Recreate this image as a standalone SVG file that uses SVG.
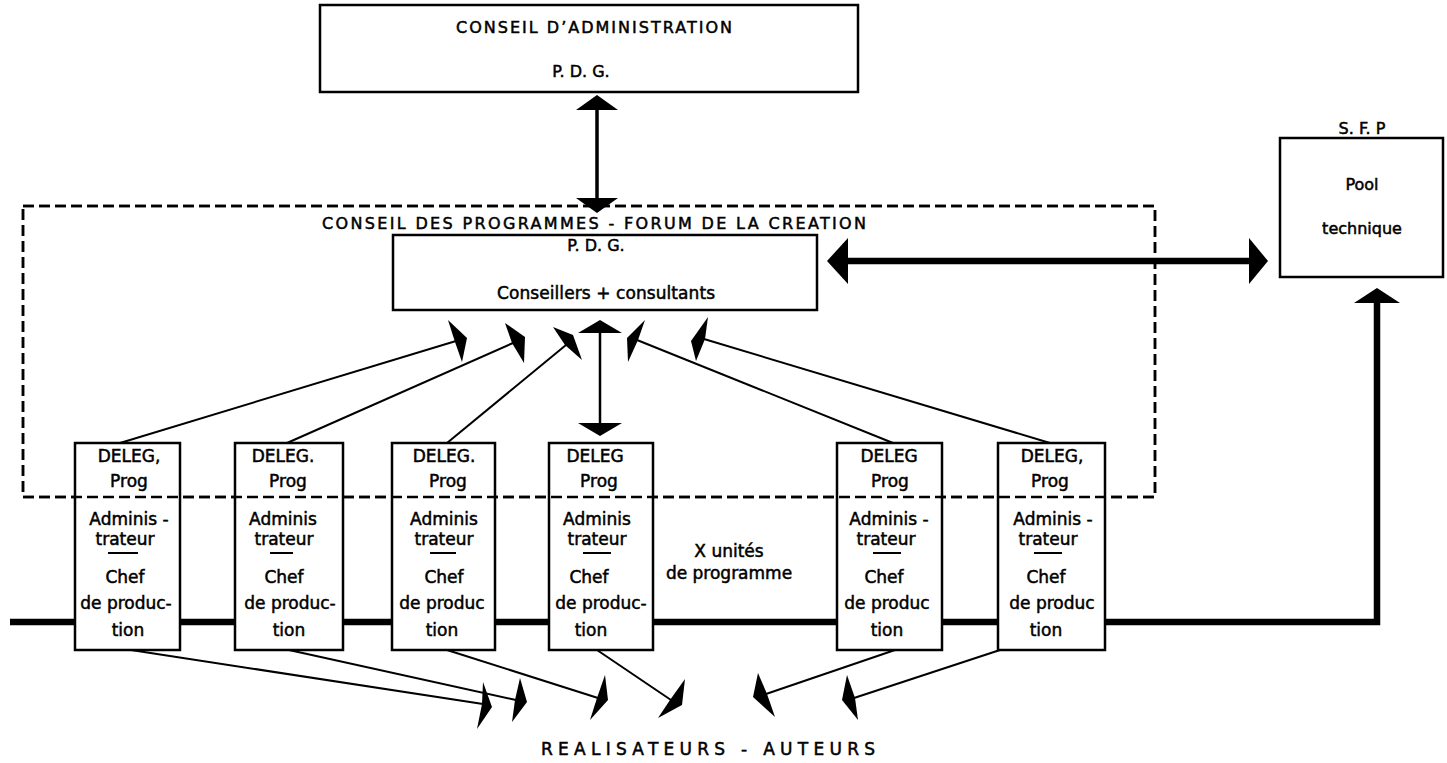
<svg xmlns="http://www.w3.org/2000/svg" width="1447" height="763" viewBox="0 0 1447 763">
<style>
.box{fill:#fff;stroke:#000;stroke-width:2.5}
.t{font-family:"DejaVu Sans","Liberation Sans",sans-serif;fill:#000;stroke:#000;stroke-width:0.5;text-anchor:middle}
.u{font-size:17px}
.h{font-size:16px}
.thin{stroke:#000;stroke-width:2;fill:none}
.thick{stroke:#000;stroke-width:6.5;fill:none}
.ah{fill:#000}
.dash{fill:none;stroke:#000;stroke-width:2.5;stroke-dasharray:11 5}
</style>
<rect width="1447" height="763" fill="#fff"/>

<g id="connectors">
  <path class="thick" d="M10,622 H1377 V300"/>
  <polygon class="ah" points="1377,288 1400,303 1354,303"/>
  <line class="thick" x1="845" y1="261" x2="1252" y2="261"/>
  <polygon class="ah" points="827,261 848,238 848,284"/>
  <polygon class="ah" points="1268,261 1249,238 1249,284"/>
  <line x1="597" y1="108" x2="597" y2="200" stroke="#000" stroke-width="3.5"/>
  <polygon class="ah" points="597,95 618,110 576,110"/>
  <polygon class="ah" points="597,213 576,198 618,198"/>
  <line x1="600" y1="330" x2="600" y2="426" stroke="#000" stroke-width="2.5"/>
  <polygon class="ah" points="600,320 622,333 578,333"/>
  <polygon class="ah" points="600,436 578,423 622,423"/>
  <line class="thin" x1="120" y1="443" x2="456" y2="341"/>
  <polygon class="ah" points="448,320 467,338 462,362 455,342"/>
  <line class="thin" x1="287" y1="443" x2="513" y2="343"/>
  <polygon class="ah" points="505,323 525,337 524,363 512,343"/>
  <line class="thin" x1="447" y1="443" x2="566" y2="345"/>
  <polygon class="ah" points="553,327 573,335 582,360 565,345"/>
  <line class="thin" x1="893" y1="443" x2="637" y2="340"/>
  <polygon class="ah" points="645,320 627,338 628,362 638,340"/>
  <line class="thin" x1="1050" y1="443" x2="704" y2="339"/>
  <polygon class="ah" points="708,317 691,341 696,361 705,339"/>
  <line class="thin" x1="131" y1="650" x2="483" y2="704"/>
  <polygon class="ah" points="483,682 492,707 477,729 482,704"/>
  <line class="thin" x1="289" y1="650" x2="516" y2="700"/>
  <polygon class="ah" points="520,678 527,702 512,722 515,700"/>
  <line class="thin" x1="447" y1="650" x2="598" y2="698"/>
  <polygon class="ah" points="605,675 608,700 590,720 597,698"/>
  <line class="thin" x1="597" y1="650" x2="671" y2="700"/>
  <polygon class="ah" points="685,679 682,705 658,718 670,700"/>
  <line class="thin" x1="895" y1="650" x2="766" y2="694"/>
  <polygon class="ah" points="758,673 753,697 775,717 767,694"/>
  <line class="thin" x1="1000" y1="650" x2="854" y2="698"/>
  <polygon class="ah" points="847,675 842,700 858,720 855,698"/>
</g>

<g id="conseil-admin">
  <rect class="box" x="320" y="5" width="538" height="87"/>
  <text class="t h" x="594" y="33" textLength="276" lengthAdjust="spacing">CONSEIL D’ADMINISTRATION</text>
  <text class="t h" x="581" y="77">P. D. G.</text>
</g>

<g id="conseil-programmes">
  <rect class="dash" x="23" y="206" width="1132" height="291"/>
  <text class="t h" x="594" y="229" textLength="544" lengthAdjust="spacing">CONSEIL DES PROGRAMMES - FORUM DE LA CREATION</text>
</g>

<g id="pdg-conseillers">
  <rect class="box" x="393" y="235" width="424" height="75"/>
  <text class="t h" x="596" y="251">P. D. G.</text>
  <text class="t u" x="606" y="299" textLength="218" lengthAdjust="spacing">Conseillers + consultants</text>
</g>

<g id="sfp">
  <text class="t h" x="1362" y="134">S. F. P</text>
  <rect class="box" x="1280" y="138" width="163" height="139"/>
  <text class="t h" x="1362" y="190">Pool</text>
  <text class="t h" x="1362" y="234">technique</text>
</g>

<g id="unit1" transform="translate(75,443)">
  <rect class="box" x="0" y="0" width="105" height="207"/>
  <text class="t u" x="54" y="19">DELEG,</text>
  <text class="t u" x="54" y="44">Prog</text>
  <text class="t u" x="54" y="82">Adminis -</text>
  <text class="t u" x="50" y="102">trateur</text>
  <line x1="33" y1="110" x2="63" y2="110" stroke="#000" stroke-width="2"/>
  <text class="t u" x="50" y="140">Chef</text>
  <text class="t u" x="51" y="166">de produc-</text>
  <text class="t u" x="53" y="193">tion</text>
</g>

<g id="unit2" transform="translate(235,443)">
  <rect class="box" x="0" y="0" width="108" height="207"/>
  <text class="t u" x="48" y="19">DELEG.</text>
  <text class="t u" x="53" y="44">Prog</text>
  <text class="t u" x="48" y="82">Adminis</text>
  <text class="t u" x="49" y="102">trateur</text>
  <line x1="35" y1="110" x2="58" y2="110" stroke="#000" stroke-width="2"/>
  <text class="t u" x="49" y="140">Chef</text>
  <text class="t u" x="55" y="166">de produc-</text>
  <text class="t u" x="54" y="193">tion</text>
</g>

<g id="unit3" transform="translate(392,443)">
  <rect class="box" x="0" y="0" width="103" height="207"/>
  <text class="t u" x="52" y="19">DELEG.</text>
  <text class="t u" x="56" y="44">Prog</text>
  <text class="t u" x="52" y="82">Adminis</text>
  <text class="t u" x="52" y="102">trateur</text>
  <line x1="38" y1="110" x2="64" y2="110" stroke="#000" stroke-width="2"/>
  <text class="t u" x="52" y="140">Chef</text>
  <text class="t u" x="50" y="166">de produc</text>
  <text class="t u" x="50" y="193">tion</text>
</g>

<g id="unit4" transform="translate(549,443)">
  <rect class="box" x="0" y="0" width="104" height="207"/>
  <text class="t u" x="46" y="19">DELEG</text>
  <text class="t u" x="50" y="44">Prog</text>
  <text class="t u" x="48" y="82">Adminis</text>
  <text class="t u" x="48" y="102">trateur</text>
  <line x1="34" y1="110" x2="62" y2="110" stroke="#000" stroke-width="2"/>
  <text class="t u" x="40" y="140">Chef</text>
  <text class="t u" x="52" y="166">de produc-</text>
  <text class="t u" x="42" y="193">tion</text>
</g>

<g id="unit5" transform="translate(837,443)">
  <rect class="box" x="0" y="0" width="105" height="207"/>
  <text class="t u" x="52" y="19">DELEG</text>
  <text class="t u" x="53" y="44">Prog</text>
  <text class="t u" x="52" y="82">Adminis -</text>
  <text class="t u" x="49" y="102">trateur</text>
  <line x1="36" y1="110" x2="64" y2="110" stroke="#000" stroke-width="2"/>
  <text class="t u" x="47" y="140">Chef</text>
  <text class="t u" x="50" y="166">de produc</text>
  <text class="t u" x="50" y="193">tion</text>
</g>

<g id="unit6" transform="translate(998,443)">
  <rect class="box" x="0" y="0" width="107" height="207"/>
  <text class="t u" x="54" y="19">DELEG,</text>
  <text class="t u" x="52" y="44">Prog</text>
  <text class="t u" x="55" y="82">Adminis -</text>
  <text class="t u" x="50" y="102">trateur</text>
  <line x1="36" y1="110" x2="64" y2="110" stroke="#000" stroke-width="2"/>
  <text class="t u" x="48" y="140">Chef</text>
  <text class="t u" x="54" y="166">de produc</text>
  <text class="t u" x="48" y="193">tion</text>
</g>

<rect class="dash" x="23" y="206" width="1132" height="291" id="dashed-overlay"/>

<g id="x-unites">
  <text class="t u" x="729" y="557">X unités</text>
  <text class="t u" x="729" y="579">de programme</text>
</g>

<g id="realisateurs">
  <text class="t u" x="708" y="755" textLength="334" lengthAdjust="spacing">REALISATEURS - AUTEURS</text>
</g>
</svg>
